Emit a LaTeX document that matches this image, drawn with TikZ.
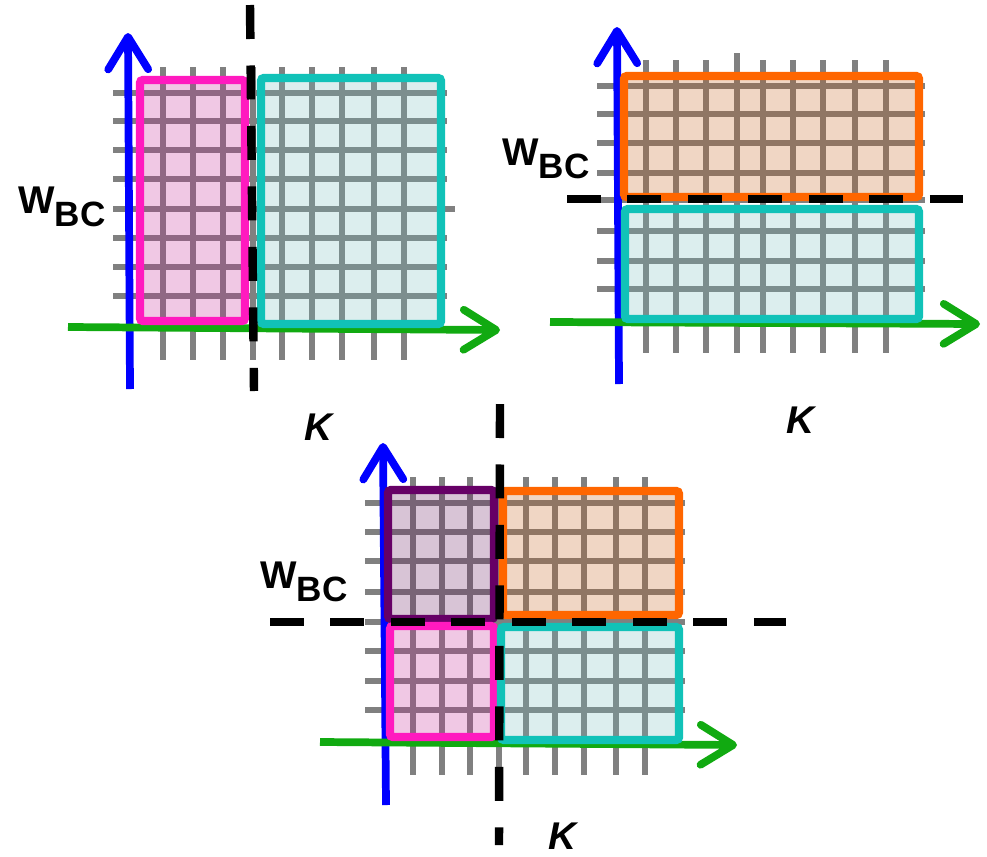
\documentclass[tikz,border=0pt]{standalone}
\usepackage{fontspec}
\setmainfont{Liberation Sans}
\usepackage{tikz}
\usetikzlibrary{arrows.meta}

\definecolor{wgrid}{RGB}{128,128,128}
\definecolor{kblue}{RGB}{0,0,255}
\definecolor{kgreen}{RGB}{17,170,17}
\definecolor{pinkline}{RGB}{255,26,191}
\definecolor{pinkfill}{RGB}{195,35,147}
\definecolor{tealline}{RGB}{17,194,184}
\definecolor{tealfill}{RGB}{115,187,187}
\definecolor{orangeline}{RGB}{255,102,0}
\definecolor{orangefill}{RGB}{195,91,19}
\definecolor{purpleline}{RGB}{102,0,102}
\definecolor{purplefill}{RGB}{99,19,91}

\newcommand{\wbclabel}{{\fontsize{22}{22}\selectfont\bfseries W\raisebox{-7.4pt}{\fontsize{20}{20}\selectfont BC}}}
\newcommand{\klabel}{{\fontsize{22}{22}\selectfont\bfseries\itshape K}}

\begin{document}
\begin{tikzpicture}[x=0.02cm,y=-0.02cm,
	gridline/.style = {draw=wgrid, line width=3.3pt},
	axisline/.style = {line width=4.4pt, -{Straight Barb[length=6.5mm,width=8mm,round]}},
	block/.style = {line width=4.6pt, rounded corners=1.5pt, fill opacity=0.25},
	cut/.style = {line width=4.8pt, dash pattern=on 0.68cm off 0.53cm},
	lbl/.style = {anchor=base west, inner sep=0pt}]
	\useasboundingbox (0,0) rectangle (987,856);

	% top left: cut along K
	\foreach \y in {93,121,150,179,238,267,296}
		\draw [gridline] (113,\y) -- (447,\y);
	\draw [gridline] (113,209) -- (455,209);
	\foreach \x in {163,193,223,253,282,312,342,374,404}
		\draw [gridline] (\x,67) -- (\x,360);
	\draw [axisline, kblue] (130,389) -- (128,33);
	\draw [axisline, kgreen] (68,327) -- (500,330);
	\draw [block, draw=pinkline, fill=pinkfill] (140,80) rectangle (245,321);
	\draw [block, draw=tealline, fill=tealfill] (261,78) rectangle (441,324);
	\draw [cut] (250,5) -- (254,391);
	\node [lbl] (wbc1) at (18,213) {\wbclabel};
	\node [lbl] (k1) at (304,440) {\klabel};

	% top right: cut along W_BC
	\foreach \y in {86,114,143,173,200,231,261,289}
		\draw [gridline] (597,\y) -- (925,\y);
	\foreach \x in {646,676,706,763,793,823,855,886}
		\draw [gridline] (\x,60) -- (\x,353);
	\draw [gridline] (737,53) -- (737,353);
	\draw [axisline, kblue] (619,384) -- (617,27);
	\draw [axisline, kgreen] (550,322) -- (980,324);
	\draw [block, draw=orangeline, fill=orangefill] (624,76) rectangle (919,197);
	\draw [block, draw=tealline, fill=tealfill] (625,209) rectangle (919,319);
	\draw [cut] (567,199) -- (963,199);
	\node [lbl] (wbc2) at (502,165) {\wbclabel};
	\node [lbl] (k2) at (786,433) {\klabel};

	% bottom: cut along both
	\foreach \y in {503,532,561,592,622,651,681,710}
		\draw [gridline] (365,\y) -- (685,\y);
	\foreach \x in {413,442,470,499,526,555,584,616,645}
		\draw [gridline] (\x,477) -- (\x,775);
	\draw [axisline, kblue] (386,805) -- (383,443);
	\draw [axisline, kgreen] (320,742) -- (737,745);
	\draw [block, draw=purpleline, fill=purplefill] (388,490) rectangle (494,619);
	\draw [block, draw=pinkline, fill=pinkfill] (390,626) rectangle (494,737);
	\draw [block, draw=orangeline, fill=orangefill] (503,491) rectangle (679,615);
	\draw [block, draw=tealline, fill=tealfill] (501,627) rectangle (679,740);
	\draw [cut] (500,404) -- (499,845);
	\draw [cut] (270,622) -- (786,622);
	\node [lbl] (wbc3) at (260,588) {\wbclabel};
	\node [lbl] (k3) at (548,849) {\klabel};
\end{tikzpicture}
\end{document}
